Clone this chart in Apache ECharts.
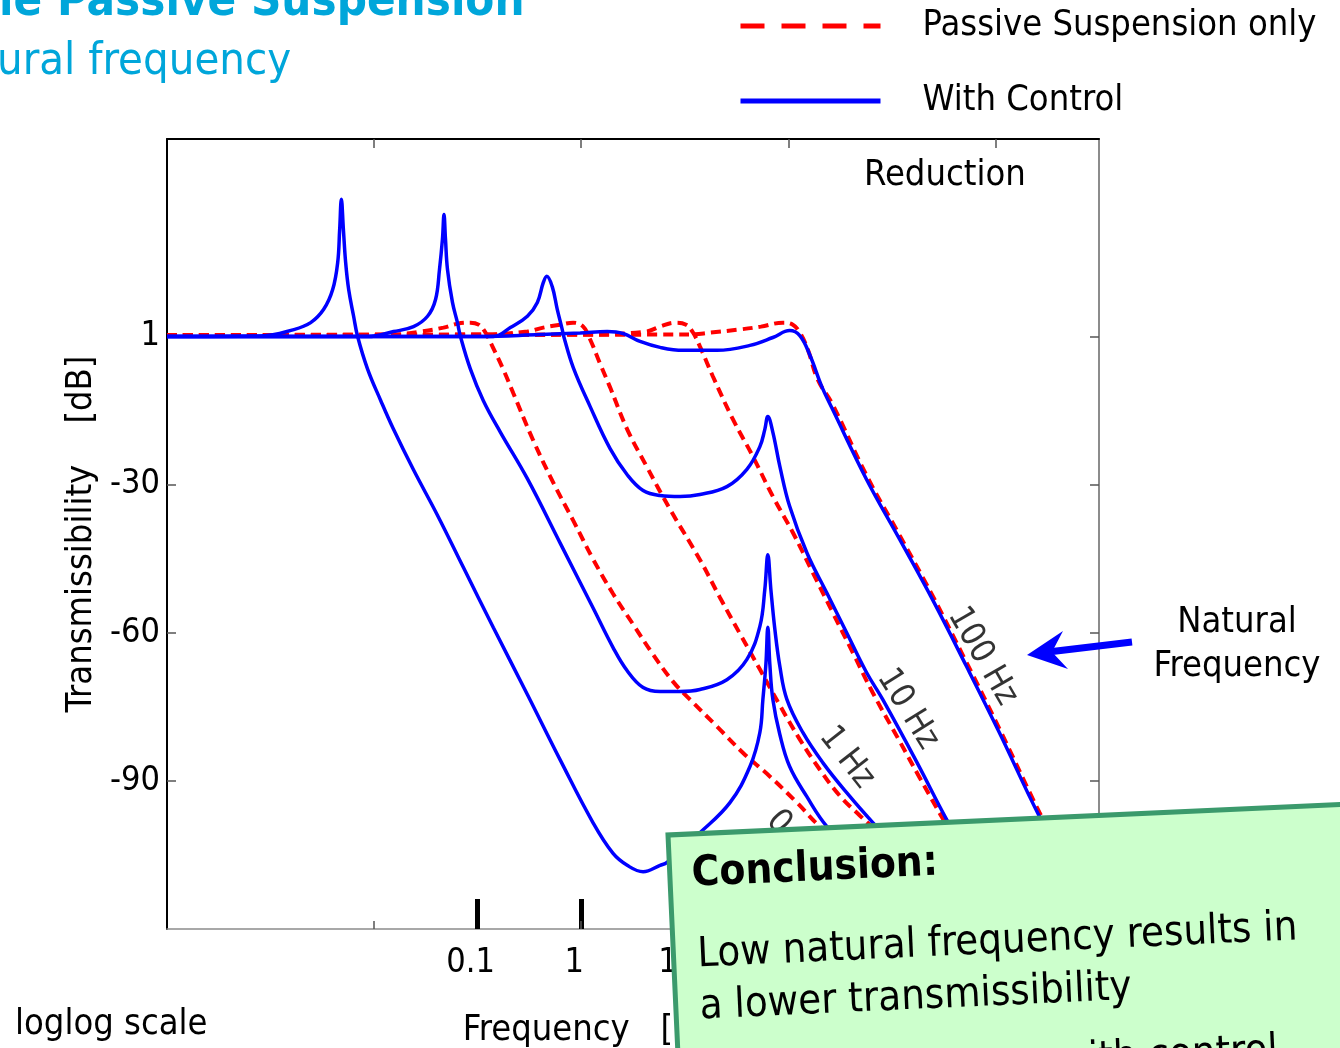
<!DOCTYPE html>
<html>
<head>
<meta charset="utf-8">
<title>Transmissibility - passive vs controlled suspension</title>
<script src="https://cdn.jsdelivr.net/npm/echarts@6.0.0/dist/echarts.min.js"></script>
<style>
    html, body { margin: 0; padding: 0; background: #fff; overflow: hidden; }
    #main { width: 1340px; height: 1048px; }
</style>
</head>
<body>
<div id="main"></div>
<script>
// values: [frequency in Hz, transmissibility in dB]
const passive01 = [[1e-4, 0.3], [0.0154, 0.4], [0.0281, 1.0], [0.0468, 1.8], [0.0638, 2.6], [0.0851, 2.8], [0.102, 2.4], [0.119, 0.8], [0.133, -1.2], [0.177, -6.7], [0.221, -11.5], [0.345, -21.1], [0.537, -29.6], [0.838, -37.3], [1.31, -45.2], [2.03, -52.1], [3.17, -58.3], [4.94, -64.4], [7.70, -69.9], [11.2, -73.5], [20.5, -79.0], [36.4, -84.3], [66.3, -89.1], [121, -94.4], [201, -99.2], [392, -103.9], [1190, -110.0]];
const passive1 = [[1e-4, 0.3], [0.106, 0.4], [0.302, 1.0], [0.430, 1.8], [0.628, 2.4], [0.837, 2.8], [1.045, 2.0], [1.22, -0.6], [1.52, -5.5], [1.90, -10.3], [2.78, -18.8], [4.33, -26.5], [7.21, -35.0], [14.0, -45.2], [21.9, -52.9], [34.1, -60.2], [53.1, -67.4], [82.8, -74.7], [129, -81.6], [201, -87.7], [313, -93.0], [489, -97.0], [762, -100.7], [1190, -104.3]];
const passive10 = [[1e-4, 0.3], [1.22, 0.4], [4.23, 1.0], [5.77, 2.0], [8.05, 2.8], [10.3, 2.4], [12.0, 0.8], [14.0, -2.0], [18.7, -8.1], [29.2, -16.8], [45.5, -24.3], [70.9, -32.4], [110.5, -39.7], [172, -47.8], [268, -55.9], [419, -64.0], [652, -72.1], [1190, -82.0], [1850, -89.3], [3220, -98.2], [5610, -106.3]];
const passive100 = [[1e-4, 0.3], [11.2, 0.4], [17.9, 0.8], [33.3, 1.4], [54.3, 2.0], [88.5, 2.8], [110.5, 2.4], [129, 0.8], [154, -2.6], [192, -8.7], [268, -13.8], [571, -28.2], [1190, -40.3], [2470, -52.5], [5250, -66.0], [10900, -79.4], [26600, -96.4], [41400, -103.9]];

const control01 = [[1e-4, 0], [8.05e-4, 0.1], [1.68e-3, 1.4], [2.44e-3, 2.8], [3.26e-3, 5.5], [3.98e-3, 9.5], [4.45e-3, 15.0], [4.65e-3, 21.7], [4.83e-3, 27.8], [5.05e-3, 21.7], [5.31e-3, 15.0], [5.68e-3, 9.5], [6.34e-3, 4.1], [6.93e-3, 0], [8.65e-3, -6.6], [0.0116, -13.0], [0.0154, -18.8], [0.0240, -27.0], [0.0409, -36.2], [0.0729, -46.8], [0.142, -59.0], [0.302, -72.5], [0.628, -85.8], [1.31, -98.6], [2.03, -104.7], [2.78, -107.1], [3.96, -108.4], [5.77, -107.1], [6.74, -106.5], [14.0, -100.5], [27.3, -94.4], [42.6, -87.1], [53.1, -80.2], [56.8, -73.5], [60.7, -66.4], [63.4, -58.9], [66.3, -66.4], [70.9, -73.5], [82.8, -80.6], [103, -87.1], [151, -93.2], [235, -99.2], [392, -103.5], [1190, -109.6]];
const control1 = [[1e-4, 0], [8.65e-3, 0], [0.0154, 1.0], [0.0240, 2.0], [0.0328, 4.1], [0.0392, 7.5], [0.0428, 13.6], [0.0457, 19.7], [0.0473, 24.7], [0.0489, 19.7], [0.0511, 13.6], [0.0571, 6.9], [0.0638, 2.8], [0.0682, 0], [0.0851, -6.6], [0.1135, -13.0], [0.166, -19.4], [0.302, -28.8], [0.628, -41.9], [1.31, -55.1], [2.03, -63.0], [2.78, -67.7], [3.96, -71.1], [5.77, -71.9], [9.0, -71.9], [14.0, -71.5], [25.5, -69.5], [39.8, -65.4], [53.1, -58.7], [59.3, -51.2], [63.4, -44.2], [67.8, -51.2], [74.1, -59.3], [82.8, -66.8], [96.8, -73.5], [138, -80.2], [215, -86.3], [366, -92.4], [652, -98.4], [1190, -103.9]];
const control10 = [[1e-4, 0], [0.142, 0], [0.207, 1.8], [0.302, 4.1], [0.377, 6.9], [0.430, 10.9], [0.465, 12.2], [0.525, 10.1], [0.587, 5.5], [0.656, 1.4], [0.678, 0], [0.838, -6.3], [1.22, -14.2], [1.90, -22.7], [2.78, -28.0], [3.96, -31.2], [5.77, -32.2], [9.0, -32.4], [14.0, -32.0], [25.5, -30.4], [39.8, -26.9], [53.1, -22.3], [59.3, -18.8], [63.4, -16.2], [70.9, -19.4], [82.8, -26.3], [103, -34.4], [151, -43.8], [235, -51.9], [366, -60.0], [571, -68.1], [815, -73.5], [1730, -86.1], [3370, -97.8], [5610, -105.9]];
const control100 = [[1e-4, 0], [0.106, 0], [0.403, 0.4], [0.978, 0.7], [1.78, 1.0], [2.54, 0.6], [3.70, -1.0], [5.77, -2.2], [9.62, -2.8], [20.5, -2.8], [42.6, -1.8], [70.9, -0.2], [103, 1.2], [129, 0.2], [161, -3.7], [210, -10.1], [268, -14.8], [571, -29.0], [1190, -41.1], [2470, -53.3], [5250, -66.8], [10900, -80.2], [26600, -97.2], [41400, -103.9]];

// natural frequency labels along the curves
const curveLabelText = ['100 Hz', '10 Hz', '1 Hz', '0.1 Hz'];
const curveLabelAt = [[7500, -64.8], [1419, -75.5], [366, -85.3], [144, -104.3]];

const yTicks = [-90, -60, -30, 0];
const decadeTicks = [1e-2, 1, 1e2, 1e4];
const freqMarks = [0.1, 1];
const freqLabels = [0.1, 1, 10];

const FONT = '"DejaVu Sans Condensed", "DejaVu Sans", sans-serif';
const RED = '#ff0000';
const BLUE = '#0000ff';
const CYAN = '#00a6da';

const chart = echarts.init(document.getElementById('main'));

function curve(name, data, color, dashed) {
    return {
        name: name,
        type: 'line',
        data: data,
        symbol: 'none',
        smooth: 0.4,
        z: dashed ? 2 : 3,
        silent: true,
        itemStyle: { color: color },
        lineStyle: { color: color, width: dashed ? 4 : 3.5, type: dashed ? [10, 6] : 'solid' }
    };
}

const labelAngles = [-60, -58, -52, -48];

const option = {
    animation: false,
    backgroundColor: '#fff',
    textStyle: { fontFamily: FONT },
    grid: [
        { left: 167, top: 139, width: 932, height: 790, outerBoundsMode: 'none' },
        { left: 167, top: 139, width: 932, height: 790, outerBoundsMode: 'none' }
    ],
    legend: {
        orient: 'vertical',
        left: 738,
        top: 6,
        padding: 0,
        itemWidth: 140,
        itemHeight: 14,
        itemGap: 35,
        selectedMode: false,
        data: [
            { name: 'Passive Suspension only', itemStyle: { opacity: 0 }, lineStyle: { color: RED, width: 5, type: [24, 17] } },
            { name: 'With Control', itemStyle: { opacity: 0 }, lineStyle: { color: BLUE, width: 5 } }
        ],
        textStyle: { fontSize: 36, fontFamily: FONT, color: '#000', lineHeight: 40, padding: [0, 0, 0, 37] }
    },
    xAxis: [
        {
            type: 'log', gridIndex: 0, position: 'bottom', min: 1e-4, max: 1e5,
            axisLine: { onZero: false, lineStyle: { color: '#8c8c8c', width: 1.5 } },
            axisTick: { customValues: freqMarks, inside: true, length: 30, lineStyle: { color: '#000', width: 5 } },
            axisLabel: { customValues: freqLabels, fontSize: 34, color: '#000', margin: 17, padding: [0, 14, 0, 0],
                formatter: v => String(v) },
            splitLine: { show: false },
            minorTick: { show: false },
            name: 'Frequency   [Hz]', nameLocation: 'middle', nameGap: 84,
            nameTextStyle: { fontSize: 36, color: '#000', padding: [0, 76, 0, 0] }
        },
        {
            type: 'log', gridIndex: 0, position: 'top', min: 1e-4, max: 1e5,
            axisLine: { onZero: false, lineStyle: { color: '#000', width: 2 } },
            axisTick: { customValues: decadeTicks, inside: true, length: 9, lineStyle: { color: '#555', width: 1.5 } },
            axisLabel: { show: false },
            splitLine: { show: false }
        },
        {
            type: 'log', gridIndex: 1, position: 'bottom', min: 1e-4, max: 1e5,
            axisLine: { show: false, onZero: false },
            axisTick: { customValues: decadeTicks, inside: true, length: 8, lineStyle: { color: '#555', width: 1.5 } },
            axisLabel: { show: false },
            splitLine: { show: false }
        }
    ],
    yAxis: [
        {
            type: 'value', gridIndex: 0, position: 'left', min: -120, max: 40, interval: 30,
            axisLine: { show: true, onZero: false, lineStyle: { color: '#000', width: 2 } },
            axisTick: { show: true, customValues: yTicks, inside: true, length: 9, lineStyle: { color: '#555', width: 1.5 } },
            axisLabel: { customValues: yTicks, fontSize: 34, color: '#000', margin: 7,
                formatter: v => (v === 0 ? '1' : String(v)) },
            splitLine: { show: false },
            name: 'Transmissibility    [dB]', nameLocation: 'middle', nameRotate: 90, nameGap: 50,
            nameTextStyle: { fontSize: 36, color: '#000' }
        },
        {
            type: 'value', gridIndex: 0, position: 'right', min: -120, max: 40, interval: 30,
            axisLine: { show: true, onZero: false, lineStyle: { color: '#8c8c8c', width: 2 } },
            axisTick: { show: true, customValues: yTicks, inside: true, length: 9, lineStyle: { color: '#555', width: 1.5 } },
            axisLabel: { show: false },
            splitLine: { show: false }
        },
        { type: 'value', gridIndex: 1, min: -120, max: 40, show: false }
    ],
    series: [
        curve('Passive Suspension only', passive01, RED, true),
        curve('Passive Suspension only', passive1, RED, true),
        curve('Passive Suspension only', passive10, RED, true),
        curve('Passive Suspension only', passive100, RED, true),
        curve('With Control', control01, BLUE, false),
        curve('With Control', control1, BLUE, false),
        curve('With Control', control10, BLUE, false),
        curve('With Control', control100, BLUE, false),
        {
            name: 'natural frequency',
            type: 'scatter',
            symbolSize: 0,
            silent: true,
            z: 5,
            data: curveLabelAt.map((v, i) => ({
                value: v,
                label: { formatter: curveLabelText[i], rotate: labelAngles[i] }
            })),
            label: { show: true, position: 'inside', fontSize: 34, color: '#000', fontFamily: FONT }
        }
    ],
    graphic: [
        // slide title, cropped at the top-left
        { type: 'text', left: -1, top: -21, z: 50, style: { text: 'le Passive Suspension', fill: CYAN, font: 'bold 47px ' + FONT } },
        { type: 'text', left: -3, top: 40, z: 50, style: { text: 'ural frequency', fill: CYAN, font: '45px ' + FONT } },
        { type: 'text', left: 864, top: 158, z: 50, style: { text: 'Reduction', fill: '#000', font: '36px ' + FONT } },
        { type: 'text', x: 1237, y: 601, z: 50, style: { text: 'Natural\nFrequency', fill: '#000', font: '36px ' + FONT, align: 'center', verticalAlign: 'top', lineHeight: 44 } },
        { type: 'text', left: 15, top: 1007, z: 50, style: { text: 'loglog scale', fill: '#000', font: '36px ' + FONT } },
        // arrow pointing at the natural frequency curves
        { type: 'line', z: 60, shape: { x1: 1132, y1: 642, x2: 1048, y2: 652 }, style: { stroke: BLUE, lineWidth: 7 } },
        { type: 'polygon', z: 60, shape: { points: [[1027, 655], [1063, 631], [1052, 652], [1068, 669]] }, style: { fill: BLUE } },
        // conclusion note, slightly tilted
        {
            type: 'group', x: 668, y: 835, rotation: 0.0454, z: 100,
            children: [
                { type: 'rect', z: 100, shape: { x: 0, y: 0, width: 720, height: 320 }, style: { fill: '#ccffcc', stroke: '#3b9a6c', lineWidth: 5 } },
                { type: 'text', z: 101, x: 22, y: 41, style: { text: 'Conclusion:', fill: '#000', font: 'bold 42px ' + FONT, verticalAlign: 'middle' } },
                { type: 'text', z: 101, x: 24, y: 122, style: { text: 'Low natural frequency results in', fill: '#000', font: '41.5px ' + FONT, verticalAlign: 'middle' } },
                { type: 'text', z: 101, x: 24, y: 174, style: { text: 'a lower transmissibility', fill: '#000', font: '41.5px ' + FONT, verticalAlign: 'middle' } },
                { type: 'text', z: 101, x: 24, y: 244, style: { text: 'even more so now with control', fill: '#000', font: '41.5px ' + FONT, verticalAlign: 'middle' } }
            ]
        }
    ]
};

chart.setOption(option);
</script>
</body>
</html>
